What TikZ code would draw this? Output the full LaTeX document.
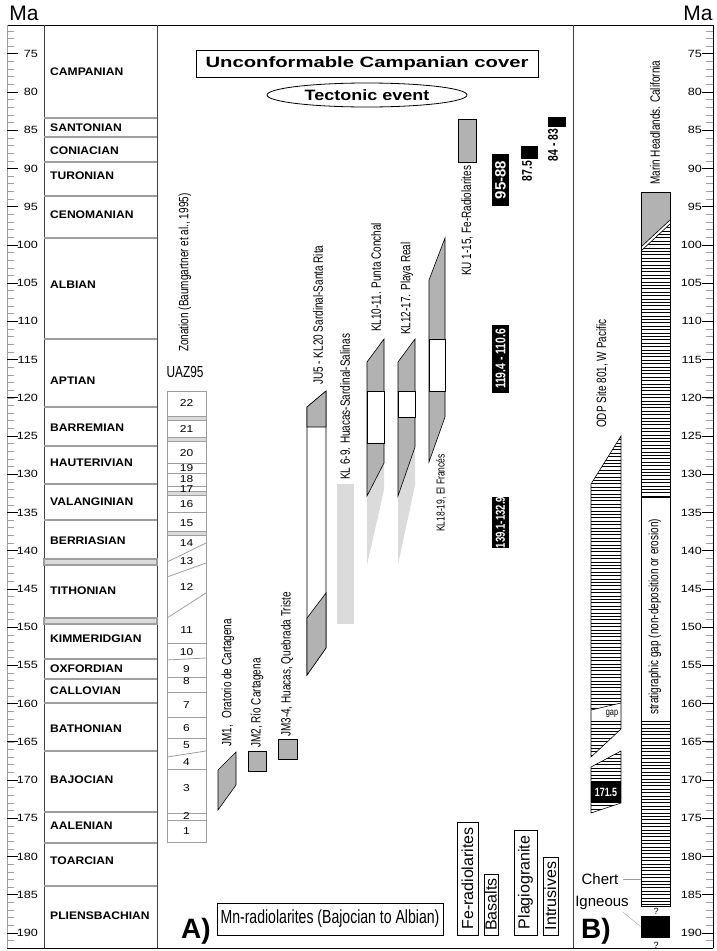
\documentclass[tikz,border=0pt]{standalone}
\usepackage{fontspec}
\setmainfont{Liberation Sans}
\newfontfamily\widefont[FakeStretch=1.2]{Liberation Sans}
\newfontfamily\stagefont[FakeStretch=1.1]{Liberation Sans}
\newfontfamily\xwidefont[FakeStretch=1.35]{Liberation Sans}
\newfontfamily\narrowfont[FakeStretch=0.74]{Liberation Sans}
\usetikzlibrary{shapes.geometric}
\definecolor{colgray}{gray}{0.7}
\definecolor{palegray}{gray}{0.86}
\definecolor{linegray}{gray}{0.62}
\tikzset{
  frame/.style={line width=1pt},
  minortick/.style={linegray, line width=0.6pt},
  majortick/.style={line width=0.8pt},
  axislabel/.style={inner sep=0, font=\widefont\fontsize{10.5}{11}\selectfont},
  stage/.style={anchor=west, inner sep=0, font=\stagefont\bfseries\fontsize{11}{12}\selectfont},
  stageline/.style={linegray, line width=1.2pt},
  zone/.style={inner sep=0, font=\widefont\fontsize{10}{10}\selectfont},
  zoneline/.style={linegray, line width=0.8pt},
  vlabel/.style={rotate=90, anchor=west, inner sep=0, font=\narrowfont\fontsize{13.5}{14}\selectfont},
  agebox/.style={rotate=90, fill=black, text=white, inner sep=0, minimum height=17, font=\narrowfont\bfseries\fontsize{14}{14}\selectfont},
  legendbox/.style={rotate=90, draw, line width=0.8pt, inner sep=0, font=\fontsize{16}{16}\selectfont},
  column/.style={draw, line width=0.6pt, fill=colgray},
  hatch/.style={line width=0.5pt},
}

\begin{document}
\begin{tikzpicture}[x=1pt,y=-1pt]
\useasboundingbox (0,0) rectangle (716,951);

% frame and time axes
\draw[frame] (7,25) -- (713,25);
\draw[frame] (7,948) -- (713,948);
\draw[linegray] (7,25) -- (7,948);
\draw[black!75, line width=0.8pt] (44,25) -- (44,948);
\draw[black!75, line width=0.8pt] (157,25) -- (157,948);
\draw[black!75, line width=1pt] (573,25) -- (573,948);
\draw[line width=0.8pt] (713,25) -- (713,948);
\node[font=\fontsize{21}{21}\selectfont] (maleft) at (24,13) {Ma};
\node[font=\fontsize{21}{21}\selectfont] (maright) at (698,13) {Ma};
\foreach \m in {72,...,191} {
  \draw[minortick] (7,{92+(\m-80)*7.645}) -- ++(7,0);
  \draw[minortick] (713,{92+(\m-80)*7.645}) -- ++(-7,0);
}
\foreach \m in {75,80,...,190} {
  \draw[majortick] (7,{92+(\m-80)*7.645}) -- ++(11,0);
  \draw[majortick] (713,{92+(\m-80)*7.645}) -- ++(-11,0);
  \node[axislabel, anchor=east] (l\m) at (38,{92+(\m-80)*7.645}) {\m};
  \node[axislabel, anchor=east] (r\m) at (702,{92+(\m-80)*7.645}) {\m};
}

% stages
\foreach \y in {118,137,162,196,238,339,407,446,484,520,659,679,703,751,812,843,886}
  \draw[stageline] (44,\y) -- (157,\y);
\draw[stageline, fill=palegray] (44,559) rectangle (157,565);
\draw[stageline, fill=palegray] (44,618) rectangle (157,624);
\foreach \name/\y in {CAMPANIAN/72,SANTONIAN/128,CONIACIAN/151,TURONIAN/176,CENOMANIAN/215,ALBIAN/285,APTIAN/381,BARREMIAN/428,HAUTERIVIAN/463,VALANGINIAN/502,BERRIASIAN/541,TITHONIAN/591,KIMMERIDGIAN/639,OXFORDIAN/669,CALLOVIAN/691,BATHONIAN/729,BAJOCIAN/780,AALENIAN/826,TOARCIAN/861,PLIENSBACHIAN/916}
  \node[stage] (st\y) at (50,\y) {\name};

% radiolarian zones
\node[vlabel] (zonation) at (185,352) {Zonation (Baumgartner et al., 1995)};
\node[font=\narrowfont\fontsize{16}{16}\selectfont] (uaz) at (185,372) {UAZ95};
\draw[zoneline] (167,391) rectangle (206,842);
\foreach \y in {463,473,486,512,643,677,692,717,738,769,813,820}
  \draw[zoneline] (167,\y) -- (206,\y);
\foreach \y in {416,437,491,531}
  \draw[zoneline, fill=palegray] (167,\y) rectangle (206,{\y+4});
\draw[zoneline] (167,562) -- (206,543);
\draw[zoneline] (167,577) -- (206,563);
\draw[zoneline] (167,618) -- (206,593);
\draw[zoneline] (167,660) -- (206,658);
\draw[zoneline] (167,757) -- (206,751);
\foreach \n/\y in {22/403,21/429,20/453,19/468,18/479,17/489,16/504,15/523,14/543,13/561,12/587,11/630,10/652,9/669,8/681,7/705,6/728,5/745,4/762,3/788,2/816,1/831}
  \node[zone] (z\n) at (186.5,\y) {\n};

% header
\node[draw, line width=1pt, minimum width=342, minimum height=27, font=\xwidefont\bfseries\fontsize{15}{15}\selectfont] (cover) at (367,63.5) {Unconformable Campanian cover};
\node[ellipse, draw, line width=0.8pt, minimum width=200, minimum height=24, inner sep=0, font=\widefont\bfseries\fontsize{15}{15}\selectfont] (tectonic) at (367,95) {Tectonic event};

% Mn-radiolarite sections
\draw[column] (218,770) -- (236,752) -- (236,785) -- (218,810) -- cycle;
\draw[column] (248,751) rectangle (266,771);
\draw[column] (278,739) rectangle (297,759);
\draw[line width=0.6pt, fill=white] (307,407) -- (326,391) -- (326,648) -- (307,675) -- cycle;
\draw[column] (307,407) -- (326,391) -- (326,427) -- (307,427) -- cycle;
\draw[column] (307,618) -- (326,593) -- (326,648) -- (307,675) -- cycle;
\fill[palegray] (337,484) rectangle (354,624);
\fill[palegray] (367,496) -- (384,463) -- (384,490) -- (367,565) -- cycle;
\draw[column] (367,362) -- (384,339) -- (384,463) -- (367,496) -- cycle;
\draw[line width=0.6pt, fill=white] (367,391) rectangle (384,443);
\fill[palegray] (398,496) -- (415,447) -- (415,485) -- (398,565) -- cycle;
\draw[column] (398,362) -- (415,339) -- (415,447) -- (398,496) -- cycle;
\draw[line width=0.6pt, fill=white] (398,391) rectangle (415,417);
\draw[column] (429,280) -- (445,238) -- (445,417) -- (429,462) -- cycle;
\draw[line width=0.6pt, fill=white] (429,339) rectangle (445,391);
\draw[column] (458,119) rectangle (476,162);

\node[vlabel] (jm1) at (228,747) {JM1,\enspace Oratorio de Cartagena};
\node[vlabel] (jm2) at (257,748) {JM2, Río Cartagena};
\node[vlabel] (jm3) at (287,737) {JM3-4, Huacas, Quebrada Triste};
\node[vlabel] (ju5) at (318,385) {JU5 - KL20 Sardinal-Santa Rita};
\node[vlabel] (kl6) at (345,480) {KL 6-9. Huacas-Sardinal-Salinas};
\node[vlabel] (kl10) at (376,332) {KL10-11. Punta Conchal};
\node[vlabel] (kl12) at (407,335) {KL12-17. Playa Real};
\node[vlabel, font=\narrowfont\fontsize{11.5}{12}\selectfont] (kl18) at (441,532) {KL18-19, El Francés};
\node[vlabel] (ku1) at (467,276) {KU 1-15, Fe-Radiolarites};

% radiometric ages
\node[agebox, minimum width=52, font=\bfseries\fontsize{15}{15}\selectfont] (a95) at (500.5,180) {95-88};
\node[agebox, minimum width=68] (a119) at (500.5,359) {119.4 - 110.6};
\node[agebox, minimum width=49, font=\narrowfont\bfseries\fontsize{13}{13}\selectfont] (a139) at (500.5,522.5) {139.1-132.9};
\fill (521,146) rectangle (538,159);
\node[rotate=90, inner sep=0, font=\narrowfont\bfseries\fontsize{14}{14}\selectfont] (a87) at (527,171) {87.5};
\fill (548,117) rectangle (566,127);
\node[rotate=90, inner sep=0, font=\narrowfont\bfseries\fontsize{14}{14}\selectfont] (a84) at (553,145) {84 - 83};

% legend
\node[draw, line width=0.8pt, minimum width=226, minimum height=32, inner sep=0, font=\narrowfont\fontsize{19}{19}\selectfont] (mnrad) at (330,919) {Mn-radiolarites (Bajocian to Albian)};
\node[legendbox, minimum width=113, minimum height=21] (ferad) at (467.5,878.5) {Fe-radiolarites};
\node[legendbox, minimum width=61, minimum height=14] (basalt) at (491,904.5) {Basalts};
\node[legendbox, minimum width=105, minimum height=23] (plagio) at (525.5,882.5) {Plagiogranite};
\node[legendbox, minimum width=78, minimum height=15] (intrus) at (550.5,896) {Intrusives};
\node[font=\bfseries\fontsize{28}{28}\selectfont] (panela) at (196,931) {A)};

% B) ODP Site 801
\begin{scope}
\clip (591,484) -- (621,436) -- (621,703) -- (591,710) -- cycle;
\foreach \y in {436,439.4,...,712} \draw[hatch] (591,\y) -- (621,\y);
\end{scope}
\begin{scope}
\clip (591,721) -- (621,721) -- (621,729) -- (591,757) -- cycle;
\foreach \y in {721,724.4,...,758} \draw[hatch] (591,\y) -- (621,\y);
\end{scope}
\begin{scope}
\clip (591,767) -- (621,751) -- (621,803) -- (591,813) -- cycle;
\foreach \y in {751,754.4,...,814} \draw[hatch] (591,\y) -- (621,\y);
\end{scope}
\draw[line width=0.6pt] (591,484) -- (621,436) -- (621,729) -- (591,757) -- cycle;
\draw[line width=0.6pt] (591,710) -- (621,703);
\draw[line width=0.6pt] (591,721) -- (621,721);
\draw[line width=0.6pt] (591,767) -- (621,751) -- (621,803) -- (591,813) -- cycle;
\node[fill=black, text=white, minimum width=30, minimum height=21, inner sep=0, font=\narrowfont\bfseries\fontsize{12}{12}\selectfont] (a171) at (606,792.5) {171.5};
\node[inner sep=0, font=\narrowfont\fontsize{10}{10}\selectfont] (gap) at (612,714) {gap};
\node[vlabel] (odp) at (602,428) {ODP Site 801, W Pacific};

% B) Marin Headlands
\fill[colgray] (641,192) -- (670,192) -- (670,220) -- (641,247) -- cycle;
\begin{scope}
\clip (641,251) -- (670,224) -- (670,497) -- (641,497) -- cycle;
\foreach \y in {224,227.4,...,498} \draw[hatch] (641,\y) -- (670,\y);
\end{scope}
\begin{scope}
\clip (641,721) rectangle (670,906);
\foreach \y in {721,724.4,...,907} \draw[hatch] (641,\y) -- (670,\y);
\end{scope}
\draw[line width=0.6pt] (641,247) -- (670,220);
\draw[line width=0.6pt] (641,251) -- (670,224);
\draw[line width=0.6pt] (641,192) rectangle (670,906);
\draw[line width=0.6pt] (641,497) -- (670,497);
\draw[line width=0.6pt] (641,721) -- (670,721);
\fill (641,916) rectangle (670,938);
\node[inner sep=0, font=\fontsize{9}{9}\selectfont] (q1) at (656,911) {?};
\node[inner sep=0, font=\fontsize{9}{9}\selectfont] (q2) at (656,945) {?};
\node[vlabel] (marin) at (655,185) {Marin Headlands. California};
\node[vlabel] (stratgap) at (655,715) {stratigraphic gap (non-deposition or erosion)};

\node[inner sep=0, font=\fontsize{15}{15}\selectfont] (chert) at (600,879) {Chert};
\node[inner sep=0, font=\fontsize{15}{15}\selectfont] (igneous) at (602,903) {Igneous};
\coordinate (chertend) at (641,879);
\coordinate (igneousend) at (641,927);
\draw[linegray] (chert.east) ++(4,0) -- (chertend);
\draw[linegray] (igneous.south east) ++(-6,2) -- (igneousend);
\node[font=\bfseries\fontsize{28}{28}\selectfont] (panelb) at (596,931) {B)};
\end{tikzpicture}
\end{document}
